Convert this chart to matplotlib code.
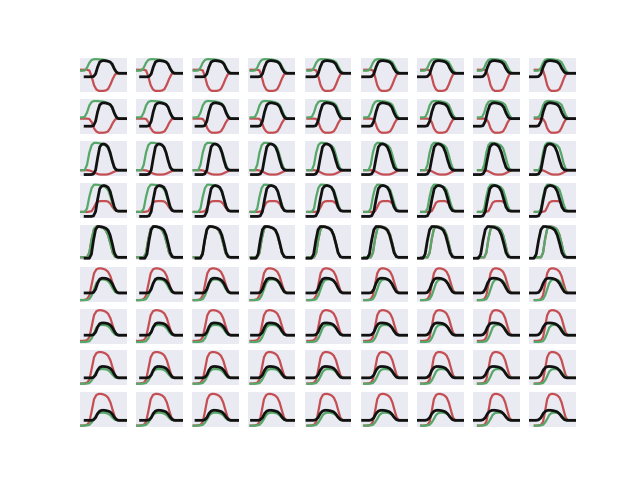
import matplotlib
matplotlib.use('Agg')
import matplotlib.pyplot as plt
import numpy as np

# sample grid along each curve (fraction of its own span)
u = np.linspace(0, 1, 21)

# curves per row (same for every column)
green_rows = [
    [.18, .18, .2, .4, .75, .95, 1.0, 1.0, .99, .98, .96, .93, .88, .78, .5, .2, .04, 0, 0, 0, 0],
    [.07, .07, .1, .35, .75, .95, 1.0, 1.0, .99, .98, .96, .93, .88, .78, .5, .2, .04, 0, 0, 0, 0],
    [0, 0, 0, .2, .65, .92, 1.0, 1.0, .99, .97, .94, .9, .8, .55, .25, .05, 0, 0, 0, 0, 0],
    [-.03, -.03, -.03, .1, .55, .88, 1.0, 1.0, .99, .97, .94, .9, .8, .55, .25, .05, 0, 0, 0, 0, 0],
    [0, 0, 0, 0, .15, .6, .92, 1.0, 1.0, .98, .95, .88, .72, .45, .15, .02, 0, 0, 0, 0, 0],
    [-.29, -.29, -.29, -.28, -.25, -.1, .15, .4, .52, .55, .55, .53, .48, .36, .18, .04, 0, 0, 0, 0, 0],
    [-.27, -.27, -.27, -.26, -.24, -.12, .08, .3, .39, .41, .41, .4, .36, .27, .13, .03, 0, 0, 0, 0, 0],
    [-.23, -.23, -.23, -.22, -.2, -.1, .06, .24, .32, .34, .34, .33, .3, .22, .11, .02, 0, 0, 0, 0, 0],
    [-.2, -.2, -.2, -.19, -.17, -.08, .05, .2, .27, .29, .29, .28, .25, .19, .09, .02, 0, 0, 0, 0, 0],
]
red_rows = [
    [.25, .25, .25, .25, .2, -.25, -.85, -1.15, -1.25, -1.25, -1.25, -1.22, -1.12, -.8, -.4, -.08, 0, 0, 0, 0, 0],
    [0, 0, 0, 0, -.02, -.2, -.55, -.73, -.8, -.8, -.8, -.78, -.72, -.52, -.25, -.05, 0, 0, 0, 0, 0],
    [0, 0, 0, 0, -.01, -.04, -.08, -.12, -.15, -.16, -.16, -.16, -.15, -.12, -.08, -.04, -.01, 0, 0, 0, 0],
    [-.03, -.03, -.03, -.03, -.02, 0, .15, .32, .37, .38, .38, .38, .36, .28, .14, .03, 0, 0, 0, 0, 0],
    [0, 0, 0, 0, .15, .6, .92, 1.0, 1.0, .98, .95, .88, .72, .45, .15, .02, 0, 0, 0, 0, 0],
    [-.29, -.29, -.28, -.25, -.1, .35, .8, .96, 1.0, 1.0, .98, .94, .86, .68, .38, .1, .01, 0, 0, 0, 0],
    [-.23, -.23, -.22, -.2, -.08, .35, .8, .96, 1.0, 1.0, .98, .94, .86, .68, .38, .1, .01, 0, 0, 0, 0],
    [-.22, -.22, -.21, -.19, -.07, .35, .8, .96, 1.0, 1.0, .98, .94, .86, .68, .38, .1, .01, 0, 0, 0, 0],
    [-.2, -.2, -.19, -.17, -.06, .35, .8, .96, 1.0, 1.0, .98, .94, .86, .68, .38, .1, .01, 0, 0, 0, 0],
]
black_rows = [
    [-.25, -.25, -.25, -.25, -.23, -.05, .45, .8, .88, .9, .88, .85, .8, .65, .32, .08, 0, 0, 0, 0, 0],
    [-.43, -.43, -.43, -.43, -.4, -.15, .4, .78, .88, .9, .88, .85, .8, .65, .32, .08, 0, 0, 0, 0, 0],
    [-.16, -.16, -.16, -.16, -.14, 0, .45, .85, .95, .96, .93, .85, .65, .35, .1, .01, 0, 0, 0, 0, 0],
    [-.2, -.2, -.2, -.2, -.18, -.02, .45, .85, .95, .97, .95, .9, .75, .45, .15, .02, 0, 0, 0, 0, 0],
    [-.03, -.03, -.03, .1, .55, .9, 1.0, 1.0, .99, .97, .94, .88, .72, .45, .15, .02, 0, 0, 0, 0, 0],
    [0, 0, 0, 0, .02, .15, .4, .56, .6, .6, .59, .56, .5, .38, .2, .05, 0, 0, 0, 0, 0],
    [0, 0, 0, 0, .02, .12, .33, .46, .49, .49, .48, .46, .41, .31, .16, .04, 0, 0, 0, 0, 0],
    [0, 0, 0, 0, .02, .11, .3, .41, .44, .44, .43, .41, .37, .28, .14, .03, 0, 0, 0, 0, 0],
    [0, 0, 0, 0, .02, .1, .26, .35, .38, .38, .37, .35, .32, .24, .12, .03, 0, 0, 0, 0, 0],
]

# where the green/red and the black curves start, per column
green_start = [0, .015, .03, .045, .06, .075, .09, .105, .12]
black_start = [.11, .095, .08, .065, .05, .04, .03, .015, 0]

fig, axes = plt.subplots(9, 9, figsize=(6.4, 4.8), dpi=100)

for i in range(9):
    for j in range(9):
        ax = axes[i, j]
        xg = green_start[j] + u * (1 - green_start[j])
        xb = black_start[j] + u * (1 - black_start[j])
        ax.plot(xg, red_rows[i], color='#C44E52', lw=1.6)
        ax.plot(xg, green_rows[i], color='#55A868', lw=1.6)
        ax.plot(xb, black_rows[i], color='#111111', lw=2.0)
        ax.set_xlim(0, 1)
        ax.set_facecolor('#EAEAF2')
        ax.set_xticks([])
        ax.set_yticks([])
        for s in ax.spines.values():
            s.set_visible(False)

plt.savefig('out.png', dpi=100)
